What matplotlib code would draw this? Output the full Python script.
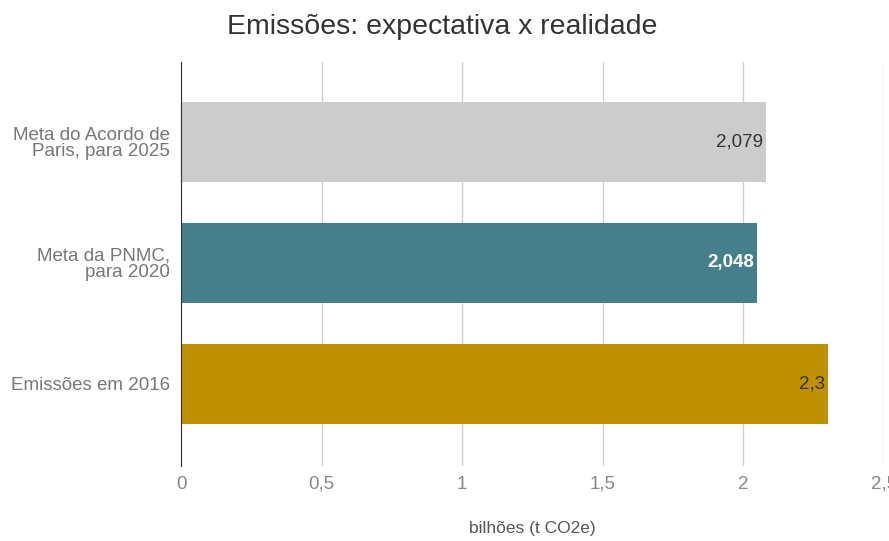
import matplotlib
matplotlib.use("Agg")
import matplotlib.pyplot as plt

plt.rcParams['font.family'] = ['Liberation Sans', 'DejaVu Sans']

categorias = ["Meta do Acordo de\nParis, para 2025", "Meta da PNMC,\npara 2020", "Emissões em 2016"]
valores = [2.079, 2.048, 2.3]
rotulos = ["2,079", "2,048", "2,3"]
cores = ["#cccccc", "#457f8c", "#bf9000"]
cores_rotulo = ["#333333", "#ffffff", "#333333"]
ticks_x = [0, 0.5, 1, 1.5, 2, 2.5]
ticks_txt = ["0", "0,5", "1", "1,5", "2", "2,5"]

fig = plt.figure(figsize=(8.89, 5.41), dpi=100)
ax = fig.add_axes([0.2036, 0.1386, 0.7908, 0.7468])

pos = list(range(len(categorias)))
ax.barh(pos, valores, height=0.66, color=cores, zorder=2)
for p, v, t, c in zip(pos, valores, rotulos, cores_rotulo):
	ax.text(v - 0.01, p, t, ha='right', va='center', fontsize=13.5, color=c,
		fontweight='bold' if c == "#ffffff" else 'normal', zorder=3)

ax.set_ylim(2.678, -0.661)
ax.set_xlim(0, 2.5)
ax.set_yticks(pos)
ax.set_yticklabels(categorias, fontsize=13.5, color="#777777", linespacing=0.92)
ax.set_xticks(ticks_x)
ax.set_xticklabels(ticks_txt, fontsize=13.5, color="#888888")
ax.tick_params(axis='both', length=0)
ax.tick_params(axis='x', pad=7)
ax.tick_params(axis='y', pad=8)
ax.grid(axis='x', color="#d0d0d0", linewidth=1, zorder=0)
for s in ['top', 'right', 'bottom']:
	ax.spines[s].set_visible(False)
ax.spines['left'].set_color('#333333')
ax.spines['left'].set_zorder(4)
ax.set_xlabel("bilhões (t CO2e)", fontsize=12.5, color="#555555", labelpad=20)
fig.text(0.497, 0.95, "Emissões: expectativa x realidade", ha='center', va='center',
	fontsize=20.5, color="#333333")

fig.savefig("out.png", dpi=100)
